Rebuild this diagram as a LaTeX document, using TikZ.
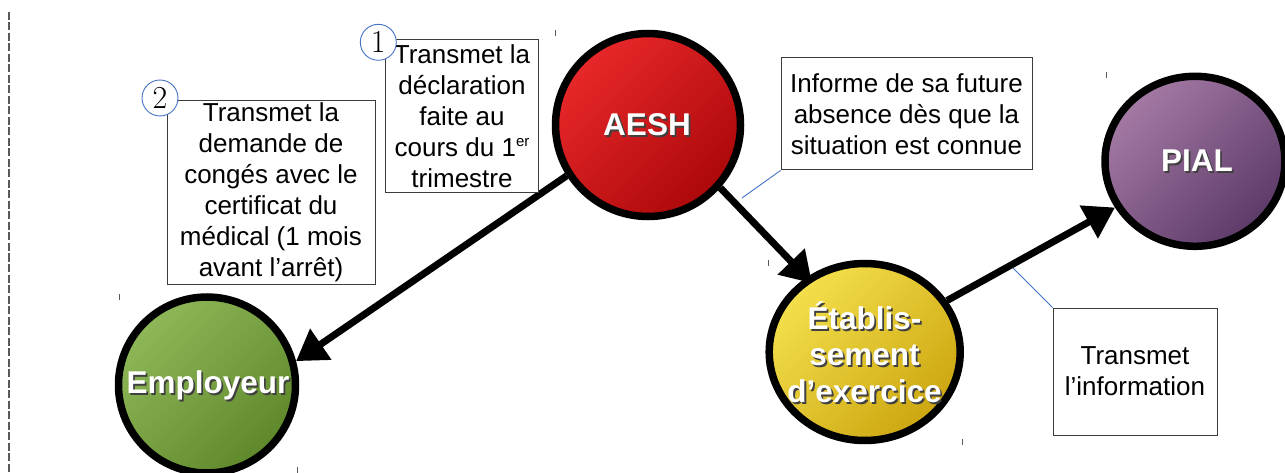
\documentclass[tikz,border=0pt]{standalone}
\usepackage{fontspec}
\setsansfont{Liberation Sans}
\usetikzlibrary{arrows.meta,shapes.geometric}
\definecolor{redA}{RGB}{232,40,42}
\definecolor{redB}{RGB}{172,8,10}
\definecolor{greenA}{RGB}{142,184,88}
\definecolor{greenB}{RGB}{94,136,42}
\definecolor{yellowA}{RGB}{244,224,76}
\definecolor{yellowB}{RGB}{204,166,16}
\definecolor{purpleA}{RGB}{164,122,164}
\definecolor{purpleB}{RGB}{92,58,104}
\definecolor{callout}{RGB}{68,114,196}
\definecolor{boxline}{RGB}{60,60,60}
\definecolor{tickc}{RGB}{90,90,90}
\newcommand{\shtext}[1]{\leavevmode\rlap{\kern1.8pt\raisebox{-1.8pt}{\textcolor{black!75}{#1}}}\textcolor{white}{#1}}
\begin{document}
\begin{tikzpicture}[x=1pt,y=-1pt,
  actor/.style={ellipse, draw=black, line width=7.5pt, inner sep=0pt},
  actorlabel/.style={font=\sffamily\bfseries\fontsize{31.5}{36.7}\selectfont, align=center, inner sep=0pt},
  boxtext/.style={draw=boxline, line width=1pt, fill=white, font=\sffamily\fontsize{26}{31}\selectfont, align=center, inner sep=0pt},
  numc/.style={circle, draw=callout, line width=0.9pt, fill=white, minimum size=36pt, inner sep=0pt, font=\rmfamily\fontsize{32}{32}\selectfont},
  arr/.style={line width=7pt, -{Triangle[length=30pt,width=36pt]}},
  pointer/.style={draw=callout, line width=0.9pt},
  tickmark/.style={draw=tickc, line width=1pt},
  dashline/.style={draw=black!65, line width=1.2pt, dash pattern=on 8pt off 2.5pt}
]
\useasboundingbox (0,0) rectangle (1285,473);
\fill[white] (0,0) rectangle (1285,473);

% dashed margin line
\coordinate (d1) at (9,12);
\coordinate (d2) at (9,473);
\draw[dashline] (d1) -- (d2);

% actors
\node[actor, top color=redA, bottom color=redB, shading angle=45, minimum width=185pt, minimum height=183pt] (aesh) at (648,125) {};
\node[actor, top color=greenA, bottom color=greenB, shading angle=45, minimum width=177pt, minimum height=176pt] (emp) at (207,385) {};
\node[actor, top color=yellowA, bottom color=yellowB, shading angle=45, minimum width=191pt, minimum height=177pt] (etab) at (864.7,352) {};
\node[actor, top color=purpleA, bottom color=purpleB, shading angle=45, minimum width=180pt, minimum height=170pt] (pial) at (1195,161.3) {};

% arrows
\draw[arr] (aesh.212.6) -- (emp.15.5);
\draw[arr, shorten >=-8pt] (aesh.-41.2) -- (etab.128.2);
\draw[arr] (etab.32.9) -- (pial.210.3);

% actor labels
\node[actorlabel] (aeshL) at (647,126) {\shtext{AESH}};
\node[actorlabel] (empL) at (208,386) {\shtext{Employeur}};
\node[actorlabel] (etabL) at (864.5,353) {\shtext{Établis-}\\\shtext{sement}\\\shtext{d’exercice}};
\node[actorlabel] (pialL) at (1197,162) {\shtext{PIAL}};

% text boxes
\node[boxtext, minimum width=153pt, minimum height=153.5pt] (b1) at (462,116.25)
  {Transmet la\\déclaration\\faite au\\cours du 1\raisebox{10pt}{\fontsize{15}{15}\selectfont er}\\trimestre};
\node[boxtext, minimum width=208pt, minimum height=183.5pt] (b2) at (271,192.75)
  {Transmet la\\demande de\\congés avec le\\certificat du\\médical (1 mois\\avant l’arrêt)};
\node[boxtext, minimum width=251pt, minimum height=112pt] (inf) at (906.5,114)
  {Informe de sa future\\absence dès que la\\situation est connue};
\node[boxtext, minimum width=164pt, minimum height=127pt] (info) at (1135,371.5)
  {Transmet\\l’information};

% callout pointers
\coordinate (p1) at (742,198);
\draw[pointer] (inf.south west) -- (p1);
\coordinate (p2) at (1013,268);
\draw[pointer] (info.north west) -- (p2);

% step numbers
\node[numc] (n1) at (378.3,42.3) {1};
\node[numc] (n2) at (160,98) {2};

% small handle ticks
\draw[tickmark] (119,294) -- ++(0,6);
\draw[tickmark] (297,467) -- ++(0,6);
\draw[tickmark] (555,30) -- ++(0,6);
\draw[tickmark] (1106,72) -- ++(0,6);
\draw[tickmark] (768,260) -- ++(0,6);
\draw[tickmark] (962,439) -- ++(0,6);
\end{tikzpicture}
\end{document}
